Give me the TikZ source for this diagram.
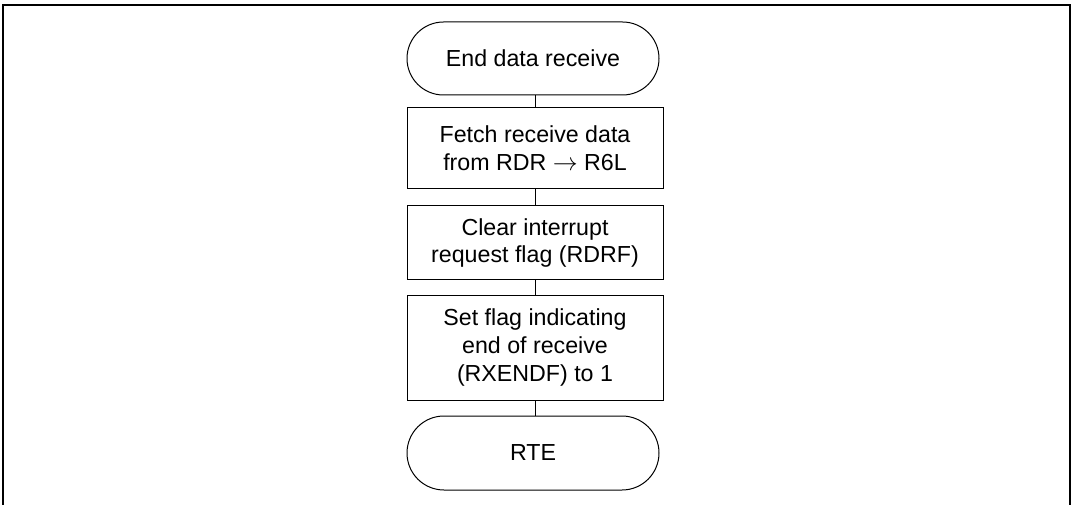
\documentclass[tikz,border=0pt]{standalone}
\usepackage{fontspec}
\setmainfont{Liberation Sans}
\usepackage{tikz}
\usetikzlibrary{shapes.misc, positioning}
\tikzset{
  termnode/.style={rounded rectangle, draw=black, line width=1pt,
    minimum width=252pt, minimum height=73pt, inner sep=0pt,
    align=center, font=\fontsize{23.2}{27.8}\selectfont},
  procbox/.style={rectangle, draw=black, line width=1pt,
    minimum width=256pt, inner sep=0pt,
    align=center, font=\fontsize{23.2}{27.8}\selectfont},
  line/.style={line width=1pt, color=black}
}
\begin{document}
\begin{tikzpicture}[x=1pt, y=-1pt]
  \useasboundingbox (0,0) rectangle (1074,505);
  % outer frame, open at the bottom
  \draw[line width=2pt] (3,512) -- (3,5) -- (1069.5,5) -- (1069.5,512);

  \node[termnode] (start) at (533,58.5) {End data receive};
  \node[procbox, minimum height=81pt, below=12pt of start, xshift=2pt] (fetch)
    {Fetch receive data\\from RDR $\rightarrow$ R6L};
  \node[procbox, minimum height=74pt, below=16pt of fetch] (clr)
    {Clear interrupt\\request flag (RDRF)};
  \node[procbox, minimum height=105pt, below=14pt of clr] (setf)
    {Set flag indicating\\end of receive\\(RXENDF) to 1};
  \node[termnode, minimum height=74pt, below=15pt of setf, xshift=-2pt] (rte) {RTE};

  \draw[line] (start.south -| fetch) -- (fetch);
  \draw[line] (fetch) -- (clr);
  \draw[line] (clr) -- (setf);
  \draw[line] (setf) -- (rte.north -| setf);
\end{tikzpicture}
\end{document}
